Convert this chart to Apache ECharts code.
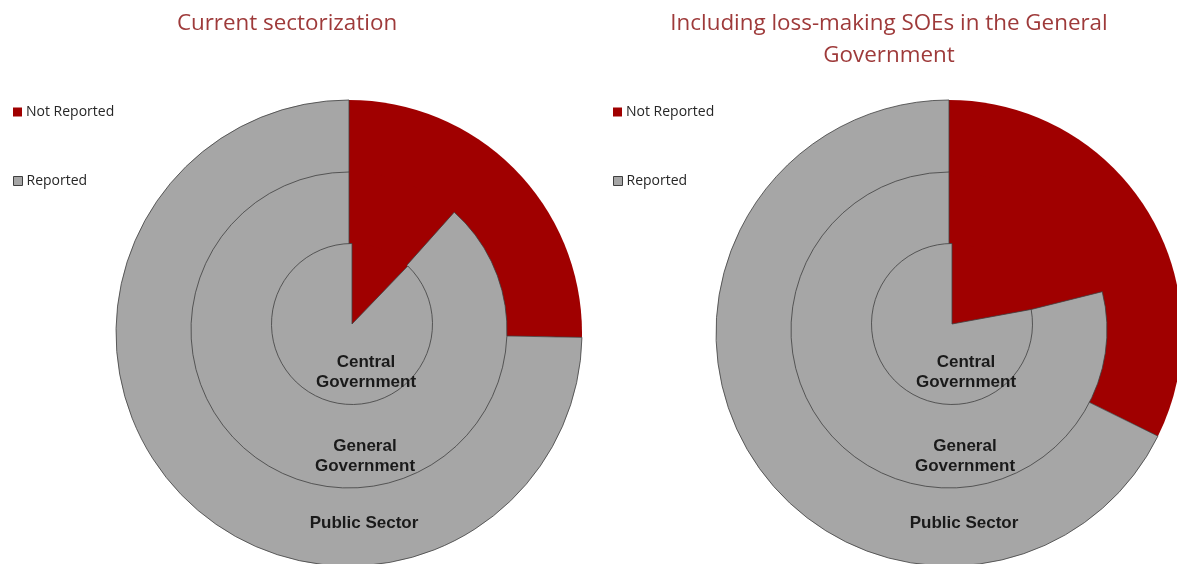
<!DOCTYPE html>
<html>
<head>
<meta charset="utf-8">
<title>Reporting coverage by sector</title>
<script src="https://cdn.jsdelivr.net/npm/echarts@6/dist/echarts.min.js"></script>
<style>
  html, body { margin: 0; padding: 0; background: #ffffff; }
  #chart { width: 1177px; height: 564px; }
</style>
</head>
<body>
<div id="chart"></div>
<script>
// Rings, from the outside in
const sectors = ['Public Sector', 'General Government', 'Central Government'];
const statuses = ['Not Reported', 'Reported'];

// Shares (%) per ring, outer to inner
const notReportedCurrent = [25.3, 11.6, 12.2];
const reportedCurrent = [74.7, 88.4, 87.8];
const notReportedWithSOEs = [32.3, 21.1, 22.1];
const reportedWithSOEs = [67.7, 78.9, 77.9];

const panelTitles = ['Current sectorization', 'Including loss-making SOEs in the General\nGovernment'];

const RED = '#a00000';
const GREY = '#a6a6a6';
const EDGE = '#3f3f3f';

// Ring geometry per panel: [centerX, centerY, radius], outer to inner
function ringGeometry(offsetX) {
  return [
    [349 + offsetX, 333, 233],
    [349 + offsetX, 330, 158],
    [352 + offsetX, 324, 80.5]
  ];
}

function panelSeries(notRep, rep, offsetX) {
  const geo = ringGeometry(offsetX);
  return sectors.map((name, i) => ({
    type: 'pie',
    name: name,
    center: [geo[i][0], geo[i][1]],
    radius: [0, geo[i][2]],
    startAngle: 90,
    clockwise: true,
    silent: true,
    animation: false,
    label: { show: false },
    labelLine: { show: false },
    emphasis: { disabled: true },
    data: [
      { name: statuses[0], value: notRep[i], itemStyle: { color: RED, borderWidth: 0 } },
      { name: statuses[1], value: rep[i], itemStyle: { color: GREY, borderColor: EDGE, borderWidth: 0.8 } }
    ]
  }));
}

function legendItem(name, left, top, withBorder) {
  return {
    data: [name],
    left: left,
    top: top,
    padding: 0,
    icon: 'rect',
    itemWidth: 9,
    itemHeight: 9,
    itemGap: 0,
    selectedMode: false,
    itemStyle: withBorder ? { borderColor: EDGE, borderWidth: 1 } : { borderWidth: 0 },
    textStyle: { fontFamily: '"Open Sans", sans-serif', fontSize: 14, color: '#262626', padding: [0, 0, 0, -1] }
  };
}

function ringLabels(offsetX) {
  const font = { fontFamily: '"Liberation Sans", Arial, sans-serif', fontWeight: 'bold', fontSize: 17 };
  const items = [
    { text: 'Central\nGovernment', x: 366, y: 372 },
    { text: 'General\nGovernment', x: 365, y: 456 },
    { text: 'Public Sector', x: 364, y: 523 }
  ];
  return items.map(it => ({
    type: 'text',
    x: it.x + offsetX,
    y: it.y,
    z: 100,
    silent: true,
    style: Object.assign({
      text: it.text,
      fill: '#1a1a1a',
      align: 'center',
      verticalAlign: 'middle',
      lineHeight: 20
    }, font)
  }));
}

function titleText(text, x, y) {
  return {
    type: 'text',
    x: x,
    y: y,
    z: 100,
    silent: true,
    style: {
      text: text,
      fill: '#9e3a3a',
      align: 'center',
      verticalAlign: 'top',
      fontFamily: '"Open Sans", "Noto Sans", sans-serif',
      fontSize: 22.4,
      lineHeight: 32
    }
  };
}

const chart = echarts.init(document.getElementById('chart'), null, { renderer: 'canvas' });

chart.setOption({
  backgroundColor: '#ffffff',
  animation: false,
  legend: [
    legendItem(statuses[0], 13, 105, false),
    legendItem(statuses[1], 13, 174, true),
    legendItem(statuses[0], 613, 105, false),
    legendItem(statuses[1], 613, 174, true)
  ],
  graphic: [
    titleText(panelTitles[0], 287, 8),
    titleText(panelTitles[1], 889, 8)
  ].concat(ringLabels(0), ringLabels(600)),
  series: panelSeries(notReportedCurrent, reportedCurrent, 0)
    .concat(panelSeries(notReportedWithSOEs, reportedWithSOEs, 600))
});
</script>
</body>
</html>
